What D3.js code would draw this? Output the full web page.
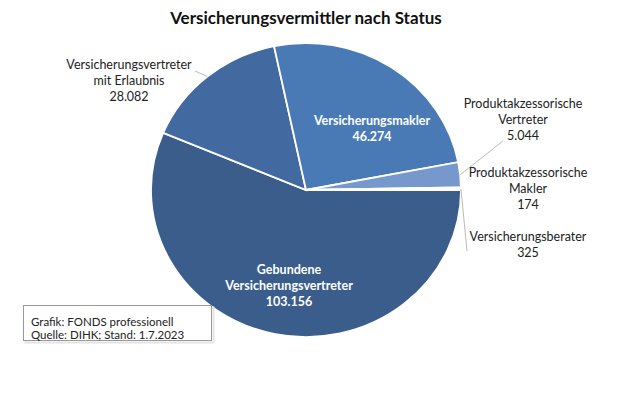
<!DOCTYPE html>
<html><head><meta charset="utf-8">
<script src="https://cdn.jsdelivr.net/npm/d3@7/dist/d3.min.js"></script>
<style>body{margin:0;background:#fff}svg{display:block}</style>
</head><body>
<script>
const categories = ["Gebundene Versicherungsvertreter","Versicherungsvertreter mit Erlaubnis","Versicherungsmakler","Produktakzessorische Vertreter","Produktakzessorische Makler","Versicherungsberater"];
const values = [103156, 28082, 46274, 5044, 174, 325];
const valueLabels = ["103.156","28.082","46.274","5.044","174","325"];
const labelLines = [["Gebundene","Versicherungsvertreter"],["Versicherungsvertreter","mit Erlaubnis"],["Versicherungsmakler"],["Produktakzessorische","Vertreter"],["Produktakzessorische","Makler"],["Versicherungsberater"]];
const colors = ["#3a5d8b","#4269a0","#4a7ab6","#7698cd","#5a83bd","#3f6496"];

const W=620,H=413, cx=306, cy=190, ry=147, rx=155;
const font = "Lato, 'Open Sans', sans-serif";
const svg = d3.select("body").append("svg").attr("width",W).attr("height",H);

svg.append("text").attr("x",306).attr("y",24).attr("text-anchor","middle")
  .attr("font-family",font).attr("font-weight","bold").attr("font-size",17).attr("fill","#111")
  .text("Versicherungsvermittler nach Status");

const data = categories.map((c,i)=>({c,v:values[i],i}));
const pie = d3.pie().value(d=>d.v).sort(null).startAngle(Math.PI/2).endAngle(Math.PI/2+2*Math.PI);
const arcs = pie(data);
const arc = d3.arc().innerRadius(0).outerRadius(ry);
const sx = rx/ry;
const g = svg.append("g").attr("transform",`translate(${cx},${cy}) scale(${sx},1)`);
g.selectAll("path").data(arcs).enter().append("path")
  .attr("d",arc).attr("fill",d=>colors[d.data.i])
  .attr("stroke","#fff").attr("stroke-width",1.8).attr("vector-effect","non-scaling-stroke");

function edgePoint(a){const m=(a.startAngle+a.endAngle)/2;return [cx+rx*Math.sin(m), cy-ry*Math.cos(m)];}

const layout = [
  {x:289,y:274,fill:"#fff",bold:true},
  {x:129,y:69,fill:"#222",bold:false,lead:[195,71]},
  {x:372,y:125,fill:"#fff",bold:true},
  {x:523,y:108,fill:"#222",bold:false,lead:[503,141]},
  {x:528,y:177,fill:"#222",bold:false},
  {x:528,y:241,fill:"#222",bold:false,lead:[467,251]}
];
const lh=16;
arcs.forEach((a,i)=>{
  const L=layout[i];
  const lines = labelLines[i].concat([valueLabels[i]]);
  const t = svg.append("text").attr("text-anchor","middle").attr("font-family",font)
    .attr("font-size",12.5).attr("font-weight",L.bold?"bold":"normal").attr("fill",L.fill);
  lines.forEach((s,k)=>t.append("tspan").attr("x",L.x).attr("y",L.y+k*lh).text(s));
  if(L.lead){
    const p=edgePoint(a);
    svg.append("line").attr("x1",p[0]).attr("y1",p[1]).attr("x2",L.lead[0]).attr("y2",L.lead[1])
      .attr("stroke","#bbb").attr("stroke-width",1);
  }
});

// source box with light shadow
svg.append("rect").attr("x",25.5).attr("y",307.5).attr("width",188).attr("height",35)
  .attr("fill","none").attr("stroke","#e4e4e4").attr("stroke-width",2);
svg.append("rect").attr("x",23.5).attr("y",305.5).attr("width",188).attr("height",35)
  .attr("fill","#fff").attr("stroke","#999").attr("stroke-width",1);
const src = svg.append("text").attr("font-family",font).attr("font-size",11.5).attr("fill","#222");
src.append("tspan").attr("x",31).attr("y",326).text("Grafik: FONDS professionell");
src.append("tspan").attr("x",31).attr("y",338.5).text("Quelle: DIHK; Stand: 1.7.2023");
</script>
</body></html>
